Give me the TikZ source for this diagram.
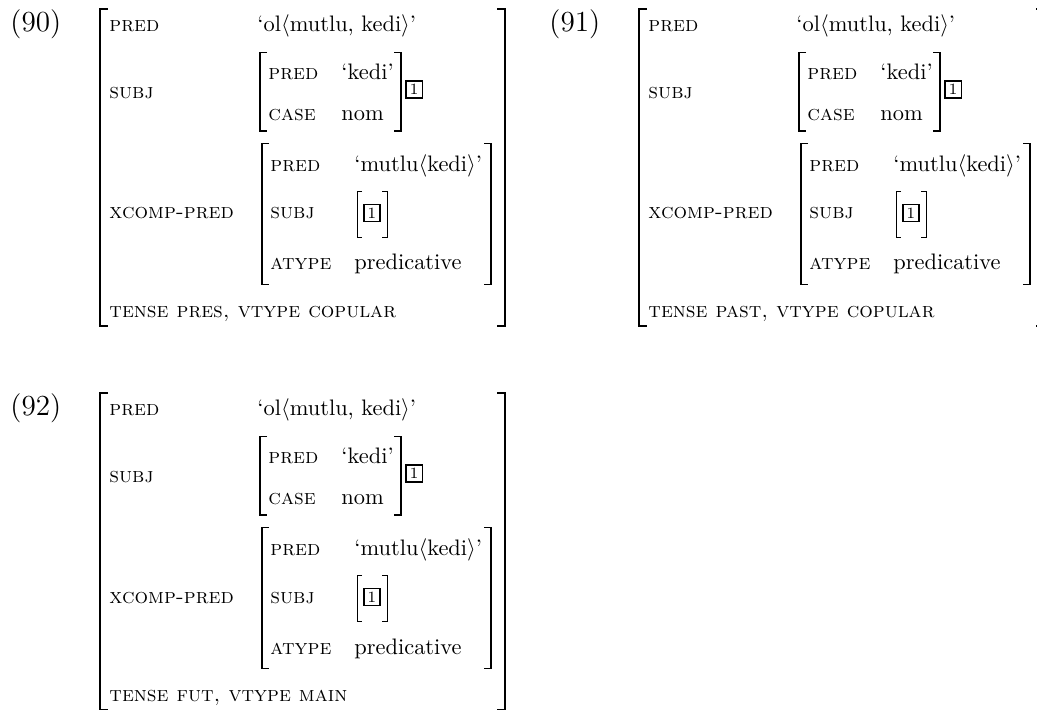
\documentclass[tikz,border=0pt]{standalone}
\usepackage{fontspec}
\tikzset{
  lab/.style={anchor=base west, inner sep=0pt, font=\fontsize{9.5}{11}\selectfont\scshape},
  val/.style={anchor=base west, inner sep=0pt, font=\fontsize{10}{12}\selectfont},
  exnum/.style={anchor=base west, inner sep=0pt, font=\fontsize{13}{15}\selectfont},
  tagbox/.style={draw, line width=0.75pt, inner sep=0pt, minimum width=7.3pt, minimum height=7.6pt, font=\fontsize{7}{8}\selectfont},
  obr/.style={line width=0.65pt},
  ibr/.style={line width=0.55pt},
  sbr/.style={line width=0.4pt},
}
\newcommand\lbr[5]{\draw[#5] (#1+#4,#2) -- (#1,#2) -- (#1,#3) -- (#1+#4,#3);}
\newcommand\rbr[5]{\draw[#5] (#1-#4,#2) -- (#1,#2) -- (#1,#3) -- (#1-#4,#3);}
\newcommand\fstruct[5]{%
\begin{scope}[shift={(#2,#3)}]
  \node[exnum] (#1num) at (10,32) {(#4)};
  \lbr{100}{9}{326}{8}{obr}
  \rbr{505}{9}{326}{8}{obr}
  \node[lab] (#1pred) at (109,32) {pred};
  \node[val] (#1predv) at (257,32) {`ol$\langle$mutlu, kedi$\rangle$'};
  \node[lab] (#1subj) at (109,98.3) {subj};
  \lbr{260}{52.7}{131}{7}{ibr}
  \rbr{401}{52.7}{131}{7}{ibr}
  \node[lab] (#1spred) at (268,79.3) {pred};
  \node[val] (#1spredv) at (341,79.3) {`kedi'};
  \node[lab] (#1scase) at (268,120.7) {case};
  \node[val] (#1scasev) at (341,120.7) {nom};
  \node[tagbox] (#1tagA) at (414.2,89.7) {1};
  \node[lab] (#1xcomp) at (109,219) {xcomp-pred};
  \lbr{262}{143.3}{284.3}{7}{ibr}
  \rbr{491}{143.3}{284.3}{7}{ibr}
  \node[lab] (#1xpred) at (270,171.7) {pred};
  \node[val] (#1xpredv) at (354,171.7) {`mutlu$\langle$kedi$\rangle$'};
  \node[lab] (#1xsubj) at (270,219) {subj};
  \lbr{357}{191}{237.3}{5}{sbr}
  \rbr{387.3}{191}{237.3}{5}{sbr}
  \node[tagbox] (#1tagB) at (371.9,212.9) {1};
  \node[lab] (#1xatype) at (270,270) {atype};
  \node[val] (#1xatypev) at (354,270) {predicative};
  \node[lab] (#1tense) at (109,317.7) {#5};
\end{scope}}
\begin{document}
\begin{tikzpicture}[x=0.4463pt, y=-0.4463pt]
  \useasboundingbox (0,0) rectangle (1037,710);
  \fstruct{a}{0}{0}{90}{tense pres, vtype copular}
  \fstruct{b}{539}{0}{91}{tense past, vtype copular}
  \fstruct{c}{0}{384}{92}{tense fut, vtype main}
\end{tikzpicture}
\end{document}
